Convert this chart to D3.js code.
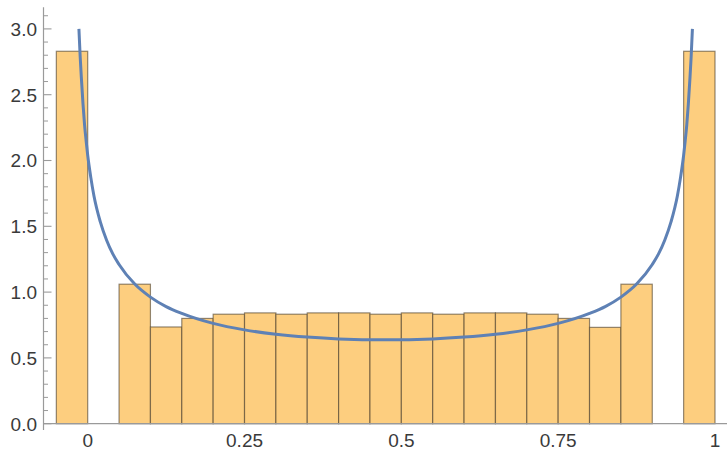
<!DOCTYPE html>
<html>
<head>
<meta charset="utf-8">
<script src="https://cdn.jsdelivr.net/npm/d3@7"></script>
<style>
  body { margin: 0; background: #fff; }
  svg { display: block; }
  text { font-family: "Liberation Sans", Arial, sans-serif; }
</style>
</head>
<body>
<svg id="chart"></svg>
<script>
// histogram bins (left edge, height), width 0.05
var binLefts = [-0.05, 0.05, 0.10, 0.15, 0.20, 0.25, 0.30, 0.35, 0.40, 0.45, 0.50,
                0.55, 0.60, 0.65, 0.70, 0.75, 0.80, 0.85, 0.95];
var binHeights = [2.83, 1.06, 0.735, 0.80, 0.832, 0.842, 0.832, 0.842, 0.842, 0.832, 0.842,
                  0.832, 0.842, 0.842, 0.832, 0.80, 0.732, 1.06, 2.83];
var binWidth = 0.05;

// density curve
var curveX = [-0.014, -0.012, -0.01, -0.0075, -0.005, -0.0025, 0, 0.005, 0.01, 0.02, 0.03, 0.04,
              0.05, 0.075, 0.1, 0.125, 0.15, 0.2, 0.25, 0.3, 0.35, 0.4, 0.475,
              0.55, 0.6, 0.65, 0.7, 0.75, 0.8, 0.825, 0.85, 0.875, 0.9, 0.91, 0.92,
              0.93, 0.94, 0.945, 0.95, 0.9525, 0.955, 0.9575, 0.96, 0.962, 0.964];
var curveY = [3.0, 2.79, 2.62, 2.43, 2.27, 2.15, 2.04, 1.87, 1.73, 1.535, 1.396, 1.29,
              1.21, 1.061, 0.962, 0.89, 0.838, 0.762, 0.713, 0.68, 0.658, 0.644, 0.637,
              0.644, 0.658, 0.68, 0.713, 0.762, 0.838, 0.89, 0.962, 1.061, 1.21, 1.29, 1.396,
              1.535, 1.73, 1.87, 2.04, 2.15, 2.27, 2.43, 2.62, 2.79, 3.0];

var yMajor = [0.0, 0.5, 1.0, 1.5, 2.0, 2.5, 3.0];
var yMinor = [0.1, 0.2, 0.3, 0.4, 0.6, 0.7, 0.8, 0.9, 1.1, 1.2, 1.3, 1.4, 1.6, 1.7, 1.8, 1.9,
              2.1, 2.2, 2.3, 2.4, 2.6, 2.7, 2.8, 2.9, 3.1];
var xTicks = [0, 0.25, 0.5, 0.75, 1];
var xTickLabels = ["0", "0.25", "0.5", "0.75", "1"];

var width = 727, height = 451;
var svg = d3.select("#chart").attr("width", width).attr("height", height);

var x = d3.scaleLinear().domain([0, 1]).range([87.7, 715]);
var y = d3.scaleLinear().domain([0, 3]).range([423.7, 28.9]);
var axisX = 43.5, axisY = y(0);

// bars
svg.append("g").selectAll("rect")
  .data(binLefts)
  .enter().append("rect")
  .attr("x", function (d) { return x(d); })
  .attr("y", function (d, i) { return y(binHeights[i]); })
  .attr("width", function (d) { return x(d + binWidth) - x(d); })
  .attr("height", function (d, i) { return axisY - y(binHeights[i]); })
  .attr("fill", "#fdce7f")
  .attr("stroke", "#4a3e2c")
  .attr("stroke-opacity", 0.6)
  .attr("stroke-width", 1.2);

// axes
var axisColor = "#9a9a9a";
svg.append("line")
  .attr("x1", axisX).attr("x2", width)
  .attr("y1", axisY).attr("y2", axisY)
  .attr("stroke", axisColor).attr("stroke-width", 1.2);
svg.append("line")
  .attr("x1", axisX).attr("x2", axisX)
  .attr("y1", 7.3).attr("y2", 430)
  .attr("stroke", axisColor).attr("stroke-width", 1.2);

svg.append("g").selectAll("line")
  .data(yMajor).enter().append("line")
  .attr("x1", axisX).attr("x2", axisX + 8)
  .attr("y1", function (d) { return y(d); })
  .attr("y2", function (d) { return y(d); })
  .attr("stroke", axisColor).attr("stroke-width", 1.1);
svg.append("g").selectAll("line")
  .data(yMinor).enter().append("line")
  .attr("x1", axisX).attr("x2", axisX + 4.5)
  .attr("y1", function (d) { return y(d); })
  .attr("y2", function (d) { return y(d); })
  .attr("stroke", axisColor).attr("stroke-width", 1);

svg.append("g").selectAll("text")
  .data(yMajor).enter().append("text")
  .attr("x", 37)
  .attr("y", function (d) { return y(d); })
  .attr("dy", "0.36em")
  .attr("text-anchor", "end")
  .attr("font-size", 19)
  .attr("fill", "#3a3a3a")
  .text(function (d) { return d3.format(".1f")(d); });

svg.append("g").selectAll("text")
  .data(xTicks).enter().append("text")
  .attr("x", function (d) { return x(d); })
  .attr("y", 447)
  .attr("text-anchor", "middle")
  .attr("font-size", 19)
  .attr("fill", "#3a3a3a")
  .text(function (d, i) { return xTickLabels[i]; });

// curve
var line = d3.line()
  .x(function (d) { return x(d); })
  .y(function (d, i) { return y(curveY[i]); })
  .curve(d3.curveMonotoneX);
svg.append("path")
  .datum(curveX)
  .attr("d", line)
  .attr("fill", "none")
  .attr("stroke", "#5e81b5")
  .attr("stroke-width", 3);
</script>
</body>
</html>
